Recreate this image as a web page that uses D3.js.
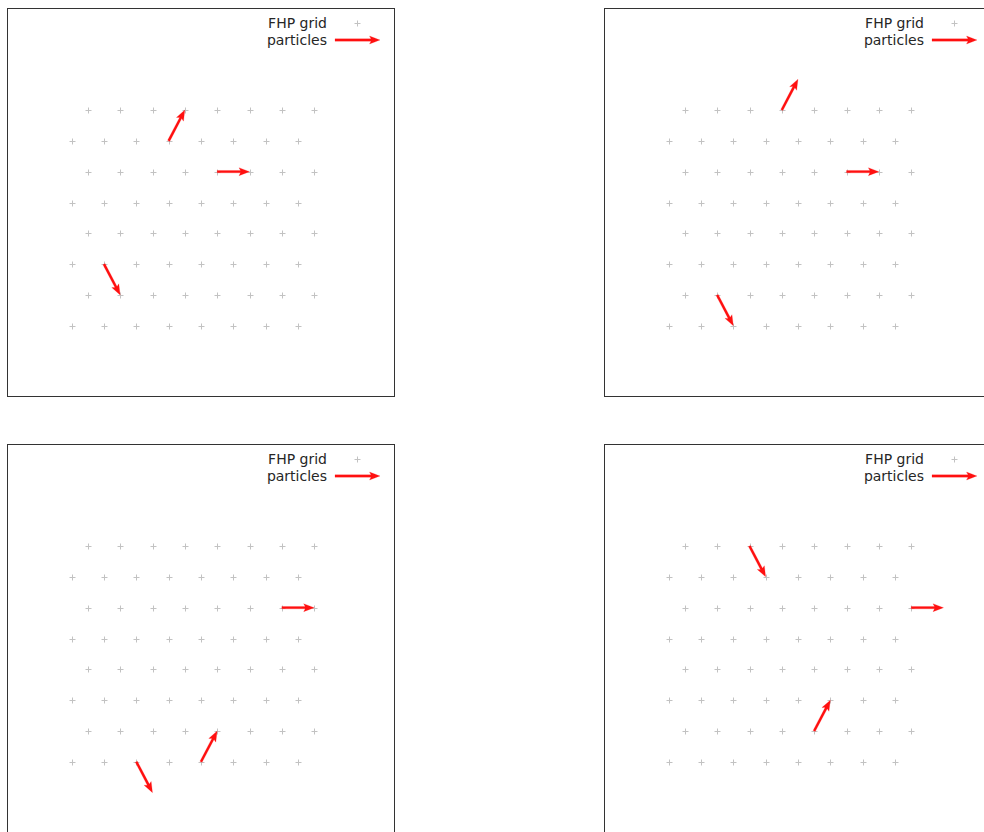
<!DOCTYPE html>
<html>
<head>
<meta charset="utf-8">
<script src="https://cdn.jsdelivr.net/npm/d3@7"></script>
<style>
html, body { margin: 0; padding: 0; background: #fff; }
svg { display: block; }
</style>
</head>
<body>
<script>
// ---- data ----
const gridCols = 8;
const gridRows = 8;
const legendLabels = ["FHP grid", "particles"];
// particle lattice column, row and direction (multiples of 60°) for each of the four time steps
const particleCol = [[3, 4, 1], [3, 5, 1], [4, 6, 2], [4, 7, 2]];
const particleRow = [[6, 5, 2], [7, 5, 1], [0, 5, 0], [1, 5, 7]];
const particleDir = [[1, 0, 5], [1, 0, 5], [1, 0, 5], [1, 0, 5]];

// ---- layout ----
const W = 984, H = 832;
const panelLeft = [7, 604];
const panelTop = [8, 444];
const pw = 388, ph = 389;
const S3 = Math.sqrt(3) / 2;

const svg = d3.select("body").append("svg").attr("width", W).attr("height", H);

const x = d3.scaleLinear().domain([-2, gridCols + 2]).range([0, pw]);
const y = d3.scaleLinear().domain([-2, gridRows * S3 + 2]).range([ph, 0]);

const lattice = [];
for (let j = 0; j < gridRows; j++)
  for (let i = 0; i < gridCols; i++)
    lattice.push({ x: i + 0.5 * (j % 2), y: j * S3 });

const gridColor = "#c2c2c2";
const red = "#ff1010";

function arrowPath(x0, y0, x1, y1) {
  const dx = x1 - x0, dy = y1 - y0;
  const L = Math.hypot(dx, dy);
  const ux = dx / L, uy = dy / L, nx = -uy, ny = ux;
  const sw = 1.2, hw = 4, hl = 10.5, hal = 9;
  const pts = [
    [0, -sw], [L - hal, -sw], [L - hl, -hw], [L, 0], [L - hl, hw], [L - hal, sw], [0, sw]
  ].map(([a, b]) => [x0 + ux * a + nx * b, y0 + uy * a + ny * b]);
  return d3.line()(pts) + "Z";
}

function crossPath(cx, cy, r) {
  return `M${cx - r},${cy}H${cx + r}M${cx},${cy - r}V${cy + r}`;
}

for (let p = 0; p < 4; p++) {
  const ox = panelLeft[p % 2], oy = panelTop[Math.floor(p / 2)];
  const g = svg.append("g").attr("transform", `translate(${ox},${oy})`);
  const clipId = "clip" + p;
  g.append("clipPath").attr("id", clipId).append("rect").attr("width", pw).attr("height", ph);
  const plot = g.append("g").attr("clip-path", `url(#${clipId})`);

  plot.append("g").selectAll("path").data(lattice).join("path")
    .attr("d", d => crossPath(Math.round(x(d.x)) + 0.5, Math.round(y(d.y)) + 0.5, 3))
    .attr("stroke", gridColor).attr("stroke-width", 1).attr("fill", "none");

  const parts = particleCol[p].map((c, k) => {
    const r = particleRow[p][k];
    const ang = particleDir[p][k] * Math.PI / 3;
    const px = c + 0.5 * (((r % 2) + 2) % 2), py = r * S3;
    return { x0: px, y0: py, x1: px + Math.cos(ang), y1: py + Math.sin(ang) };
  });
  plot.append("g").selectAll("path").data(parts).join("path")
    .attr("d", d => arrowPath(x(d.x0), y(d.y0), x(d.x1), y(d.y1)))
    .attr("fill", red).attr("stroke", red).attr("stroke-width", 0.2);

  // legend
  const lg = g.append("g");
  lg.selectAll("text").data(legendLabels).join("text")
    .attr("x", 320).attr("y", (d, k) => 20 + k * 17)
    .attr("text-anchor", "end")
    .attr("font-family", "DejaVu Sans, sans-serif")
    .attr("font-size", 14).attr("fill", "#262626")
    .text(d => d);
  lg.append("path").attr("d", crossPath(350.5, 15.5, 3))
    .attr("stroke", gridColor).attr("stroke-width", 1);
  lg.append("path").attr("d", arrowPath(328, 32, 373, 32)).attr("fill", red).attr("stroke", red).attr("stroke-width", 0.2);

  g.append("rect").attr("x", 0.5).attr("y", 0.5).attr("width", pw - 1).attr("height", ph - 1)
    .attr("fill", "none").attr("stroke", "#333").attr("stroke-width", 1);
}
</script>
</body>
</html>
